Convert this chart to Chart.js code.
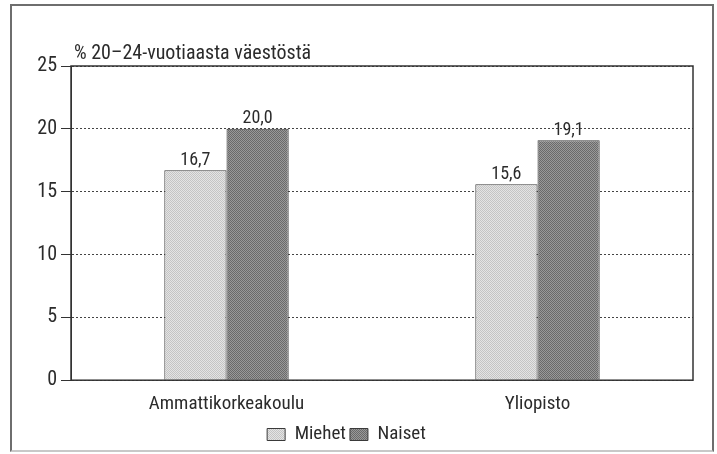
<!DOCTYPE html>
<html>
<head>
<meta charset="utf-8">
<script src="https://cdn.jsdelivr.net/npm/chart.js@4"></script>
<style>
  html, body { margin: 0; padding: 0; background: #fff; }
  #wrap { position: relative; width: 717px; height: 454px; }
  #frame {
    position: absolute; left: 10px; top: 4px; width: 700px; height: 444px;
    border: 2px solid #6e6e6e; border-bottom-color: #c8c8c8; pointer-events: none;
  }
</style>
</head>
<body>
<div id="wrap">
  <canvas id="c" width="717" height="454"></canvas>
  <div id="frame"></div>
</div>
<script>
// Koulutukseen osallistuminen, % 20-24-vuotiaista
const categories = ['Ammattikorkeakoulu', 'Yliopisto'];
const miehet = [16.7, 15.6];
const naiset = [20.0, 19.1];
const yTicks = [0, 5, 10, 15, 20, 25];
const unitLabel = '% 20–24-vuotiaasta väestöstä';

const FONT = "'Liberation Sans Narrow', 'Roboto Condensed', 'DejaVu Sans Condensed', 'Liberation Sans', sans-serif";
const INK = '#2b2b2b';

// stippled fills like the printed original (small checker)
function stipple(a, b) {
  const p = document.createElement('canvas');
  p.width = 2; p.height = 2;
  const g = p.getContext('2d');
  g.fillStyle = a;
  g.fillRect(0, 0, 2, 2);
  g.fillStyle = b;
  g.fillRect(0, 0, 1, 1);
  g.fillRect(1, 1, 1, 1);
  return g.createPattern(p, 'repeat');
}
const lightFill = stipple('#e4e4e4', '#c4c4c4');
const darkFill = stipple('#999', '#6a6a6a');

const frameAndLabels = {
  id: 'frameAndLabels',
  afterDatasetsDraw(chart) {
    const { ctx, chartArea: a } = chart;
    ctx.save();
    // solid plot frame
    ctx.strokeStyle = '#333';
    ctx.lineWidth = 1.5;
    ctx.strokeRect(a.left, a.top, a.right - a.left, a.bottom - a.top);
    // value labels
    ctx.fillStyle = INK;
    ctx.font = '18px ' + FONT;
    ctx.textAlign = 'center';
    ctx.textBaseline = 'bottom';
    chart.data.datasets.forEach((ds, i) => {
      chart.getDatasetMeta(i).data.forEach((bar, j) => {
        ctx.fillText(ds.data[j].toFixed(1).replace('.', ','), bar.x, bar.y - 1);
      });
    });
    // unit label above the plot
    ctx.textAlign = 'left';
    ctx.font = '20px ' + FONT;
    ctx.fillText(unitLabel, a.left + 3, a.top - 2);
    ctx.restore();
  }
};

new Chart(document.getElementById('c'), {
  type: 'bar',
  data: {
    labels: categories,
    datasets: [
      { label: 'Miehet', data: miehet, backgroundColor: lightFill, borderColor: '#3a3a3a', borderWidth: 1 },
      { label: 'Naiset', data: naiset, backgroundColor: darkFill, borderColor: '#3a3a3a', borderWidth: 1 },
    ],
  },
  options: {
    responsive: false,
    animation: false,
    layout: { padding: { left: 0, right: 24, top: 66, bottom: 0 } },
    datasets: { bar: { categoryPercentage: 0.4, barPercentage: 1.0 } },
    plugins: {
      tooltip: { enabled: false },
      legend: {
        position: 'bottom',
        labels: {
          color: INK,
          font: { family: FONT, size: 19 },
          boxWidth: 18,
          boxHeight: 12,
          padding: 4,
        },
      },
    },
    scales: {
      x: {
        grid: { display: false },
        border: { display: false },
        ticks: { color: INK, font: { family: FONT, size: 19 }, padding: 5 },
      },
      y: {
        min: 0,
        max: 25,
        afterFit(s) { s.width = 71; },
        afterBuildTicks(s) { s.ticks = yTicks.map(v => ({ value: v })); },
        grid: {
          color: '#444',
          lineWidth: 1,
          tickLength: 10,
          tickBorderDash: [],
          tickColor: '#333',
        },
        border: { dash: [2, 2], color: '#333' },
        ticks: { color: INK, font: { family: FONT, size: 20 }, padding: 4 },
      },
    },
  },
  plugins: [frameAndLabels],
});
</script>
</body>
</html>
